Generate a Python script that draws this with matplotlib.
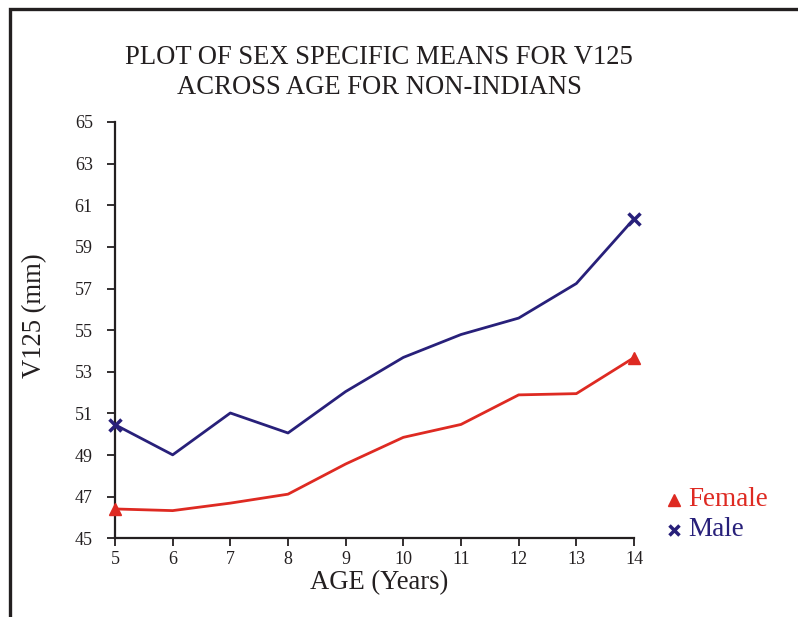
import matplotlib.pyplot as plt
from matplotlib.lines import Line2D

# ── Datos ────────────────────────────────────────────────────────────────────
ages = [5, 6, 7, 8, 9, 10, 11, 12, 13, 14]
female_means = [46.41, 46.33, 46.69, 47.12, 48.57, 49.85, 50.47, 51.89, 51.95, 53.68]
male_means = [50.46, 49.01, 51.02, 50.06, 52.05, 53.69, 54.79, 55.58, 57.24, 60.35]
y_ticks = list(range(45, 66, 2))

# ── Estilo ───────────────────────────────────────────────────────────────────
RED = "#DE2A22"
NAVY = "#28207A"
TEXT = "#231F20"

plt.rcParams["font.family"] = ["Liberation Serif", "DejaVu Serif"]

fig = plt.figure(figsize=(7.98, 6.17), dpi=100, facecolor="white")
ax = fig.add_axes([115 / 798, 1 - 538.3 / 617, (634 - 115) / 798, (538.3 - 122) / 617])

ax.plot(ages, female_means, color=RED, lw=2.0, marker="^", markersize=8,
        markevery=[0, len(ages) - 1], clip_on=False, zorder=3)
ax.plot(ages, male_means, color=NAVY, lw=2.0, marker="x", markersize=8,
        markeredgewidth=2.5, markevery=[0, len(ages) - 1], clip_on=False, zorder=3)

ax.set_xlim(5, 14)
ax.set_ylim(45, 65)
ax.set_xticks(ages)
ax.set_yticks(y_ticks)
ax.tick_params(axis="both", direction="out", length=6, width=1.3,
               labelsize=13, colors=TEXT)
ax.tick_params(axis="y", pad=10)
ax.tick_params(axis="x", pad=3)
for side in ("top", "right"):
    ax.spines[side].set_visible(False)
for side in ("left", "bottom"):
    ax.spines[side].set_linewidth(1.6)
    ax.spines[side].set_color(TEXT)

# Títulos y etiquetas
fig.text(379 / 798, 1 - 58 / 617, "PLOT OF SEX SPECIFIC MEANS FOR V125",
         ha="center", va="center", fontsize=19.2, color=TEXT)
fig.text(379 / 798, 1 - 88 / 617, "ACROSS AGE FOR NON-INDIANS",
         ha="center", va="center", fontsize=19.2, color=TEXT)
fig.text(379 / 798, 1 - 583 / 617, "AGE (Years)", ha="center", va="center",
         fontsize=19.2, color=TEXT)
fig.text(35 / 798, 1 - 316 / 617, "V125 (mm)", ha="center", va="center",
         rotation=90, fontsize=19.2, color=TEXT)

# Leyenda manual
fig.add_artist(Line2D([674 / 798], [1 - 500 / 617], marker="^", color=RED,
                      markersize=8, linestyle="none"))
fig.text(688 / 798, 1 - 500 / 617, "Female", ha="left", va="center",
         fontsize=19.5, color=RED)
fig.add_artist(Line2D([674 / 798], [1 - 530 / 617], marker="x", color=NAVY,
                      markersize=7, markeredgewidth=2.5, linestyle="none"))
fig.text(688 / 798, 1 - 530 / 617, "Male", ha="left", va="center",
         fontsize=19.5, color=NAVY)

# Marco
fig.add_artist(Line2D([10 / 798, 10 / 798, 1.0], [0.0, 1 - 9 / 617, 1 - 9 / 617],
                      color=TEXT, lw=2.4, solid_joinstyle="miter"))

fig.savefig("out.png", dpi=100, facecolor="white")
